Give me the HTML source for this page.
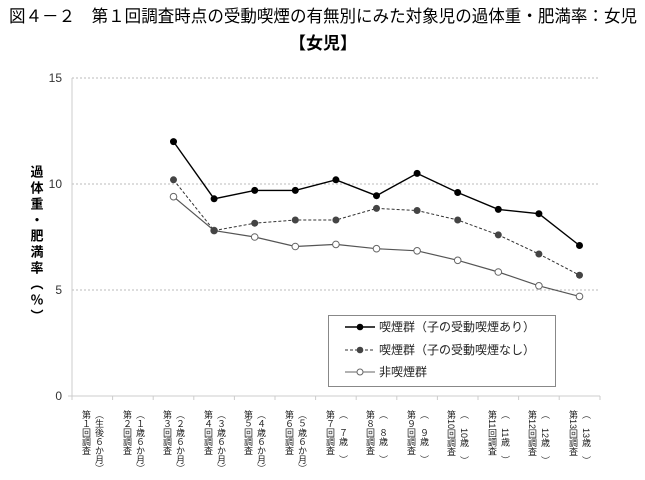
<!DOCTYPE html>
<html><head><meta charset="utf-8"><style>
body{margin:0;background:#fff;width:645px;height:475px;overflow:hidden;font-family:"Liberation Sans","Noto Sans CJK JP",sans-serif;}
</style></head><body>
<svg width="645" height="475" xmlns="http://www.w3.org/2000/svg" font-family="Liberation Sans, Noto Sans CJK JP, sans-serif">
<text x="323" y="22" font-size="17" text-anchor="middle" fill="#000" textLength="628" lengthAdjust="spacingAndGlyphs">図４－２　第１回調査時点の受動喫煙の有無別にみた対象児の過体重・肥満率：女児</text>
<text x="323" y="49" font-size="17" font-weight="bold" text-anchor="middle" fill="#000">【女児】</text>
<g stroke="#bbb" stroke-dasharray="2,2" stroke-width="1">
<line x1="72" y1="78" x2="600" y2="78"/><line x1="72" y1="184" x2="600" y2="184"/><line x1="72" y1="290" x2="600" y2="290"/>
</g>
<line x1="72" y1="78" x2="72" y2="396" stroke="#ccc"/>
<line x1="68" y1="396" x2="600" y2="396" stroke="#ccc"/>
<g font-size="12" fill="#333" text-anchor="end">
<text x="62" y="82">15</text><text x="62" y="188">10</text><text x="62" y="294">5</text><text x="62" y="400">0</text>
</g>
<text x="36" y="165" font-size="13" fill="#000" font-weight="bold" style="writing-mode:vertical-rl" letter-spacing="3">過体重・肥満率（％）</text>
<g stroke="#ccc">
<line x1="72" y1="396" x2="72" y2="400"/><line x1="112.6" y1="396" x2="112.6" y2="400"/><line x1="153.2" y1="396" x2="153.2" y2="400"/><line x1="193.8" y1="396" x2="193.8" y2="400"/><line x1="234.4" y1="396" x2="234.4" y2="400"/><line x1="275" y1="396" x2="275" y2="400"/><line x1="315.6" y1="396" x2="315.6" y2="400"/><line x1="356.2" y1="396" x2="356.2" y2="400"/><line x1="396.8" y1="396" x2="396.8" y2="400"/><line x1="437.4" y1="396" x2="437.4" y2="400"/><line x1="478" y1="396" x2="478" y2="400"/><line x1="518.6" y1="396" x2="518.6" y2="400"/><line x1="559.2" y1="396" x2="559.2" y2="400"/><line x1="600" y1="396" x2="600" y2="400"/>
</g>
<g font-size="9" fill="#222" style="writing-mode:vertical-rl">
<text x="86" y="410">第１回調査</text><text x="99" y="410">（生後６か月）</text>
<text x="127" y="410">第２回調査</text><text x="140" y="410">（１歳６か月）</text>
<text x="167" y="410">第３回調査</text><text x="180" y="410">（２歳６か月）</text>
<text x="208" y="410">第４回調査</text><text x="221" y="410">（３歳６か月）</text>
<text x="248" y="410">第５回調査</text><text x="261" y="410">（４歳６か月）</text>
<text x="289" y="410">第６回調査</text><text x="302" y="410">（５歳６か月）</text>
<text x="330" y="410">第７回調査</text><text x="343" y="410">（　７歳　）</text>
<text x="370" y="410">第８回調査</text><text x="383" y="410">（　８歳　）</text>
<text x="411" y="410">第９回調査</text><text x="424" y="410">（　９歳　）</text>
<text x="451" y="410">第10回調査</text><text x="464" y="410">（　10歳　）</text>
<text x="492" y="410">第11回調査</text><text x="505" y="410">（　11歳　）</text>
<text x="532" y="410">第12回調査</text><text x="545" y="410">（　12歳　）</text>
<text x="573" y="410">第13回調査</text><text x="586" y="410">（　13歳　）</text>
</g>
<polyline fill="none" stroke="#555" stroke-width="1.2" points="173.5,196.7 214.1,230.6 254.7,237 295.3,246.5 335.9,244.4 376.5,248.7 417.1,250.8 457.7,260.3 498.3,272 538.9,285.8 579.5,296.4"/>
<polyline fill="none" stroke="#333" stroke-width="1" stroke-dasharray="3,2" points="173.5,179.8 214.1,230.6 254.7,223.2 295.3,220 335.9,220 376.5,208.4 417.1,210.5 457.7,220 498.3,234.9 538.9,254 579.5,275.2"/>
<polyline fill="none" stroke="#000" stroke-width="1.4" points="173.5,141.6 214.1,198.8 254.7,190.4 295.3,190.4 335.9,179.8 376.5,195.7 417.1,173.4 457.7,192.5 498.3,209.4 538.9,213.7 579.5,245.5"/>
<g fill="#fff" stroke="#666">
<circle cx="173.5" cy="196.7" r="3.3"/><circle cx="214.1" cy="230.6" r="3.3"/><circle cx="254.7" cy="237" r="3.3"/><circle cx="295.3" cy="246.5" r="3.3"/><circle cx="335.9" cy="244.4" r="3.3"/><circle cx="376.5" cy="248.7" r="3.3"/><circle cx="417.1" cy="250.8" r="3.3"/><circle cx="457.7" cy="260.3" r="3.3"/><circle cx="498.3" cy="272" r="3.3"/><circle cx="538.9" cy="285.8" r="3.3"/><circle cx="579.5" cy="296.4" r="3.3"/>
</g>
<g fill="#444">
<circle cx="173.5" cy="179.8" r="3.5"/><circle cx="214.1" cy="230.6" r="3.5"/><circle cx="254.7" cy="223.2" r="3.5"/><circle cx="295.3" cy="220" r="3.5"/><circle cx="335.9" cy="220" r="3.5"/><circle cx="376.5" cy="208.4" r="3.5"/><circle cx="417.1" cy="210.5" r="3.5"/><circle cx="457.7" cy="220" r="3.5"/><circle cx="498.3" cy="234.9" r="3.5"/><circle cx="538.9" cy="254" r="3.5"/><circle cx="579.5" cy="275.2" r="3.5"/>
</g>
<g fill="#000">
<circle cx="173.5" cy="141.6" r="3.5"/><circle cx="214.1" cy="198.8" r="3.5"/><circle cx="254.7" cy="190.4" r="3.5"/><circle cx="295.3" cy="190.4" r="3.5"/><circle cx="335.9" cy="179.8" r="3.5"/><circle cx="376.5" cy="195.7" r="3.5"/><circle cx="417.1" cy="173.4" r="3.5"/><circle cx="457.7" cy="192.5" r="3.5"/><circle cx="498.3" cy="209.4" r="3.5"/><circle cx="538.9" cy="213.7" r="3.5"/><circle cx="579.5" cy="245.5" r="3.5"/>
</g>
<rect x="328.5" y="315.5" width="227" height="71" fill="#fff" stroke="#888"/>
<line x1="345" y1="327" x2="375" y2="327" stroke="#000" stroke-width="1.4"/><circle cx="360" cy="327" r="3.3" fill="#000"/>
<line x1="345" y1="350" x2="375" y2="350" stroke="#333" stroke-dasharray="3,2"/><circle cx="360" cy="350" r="3.3" fill="#444"/>
<line x1="345" y1="372" x2="375" y2="372" stroke="#666"/><circle cx="360" cy="372" r="3" fill="#fff" stroke="#666"/>
<g font-size="12" fill="#222">
<text x="379" y="331">喫煙群（子の受動喫煙あり）</text>
<text x="379" y="354">喫煙群（子の受動喫煙なし）</text>
<text x="379" y="376">非喫煙群</text>
</g>
</svg>
</body></html>
